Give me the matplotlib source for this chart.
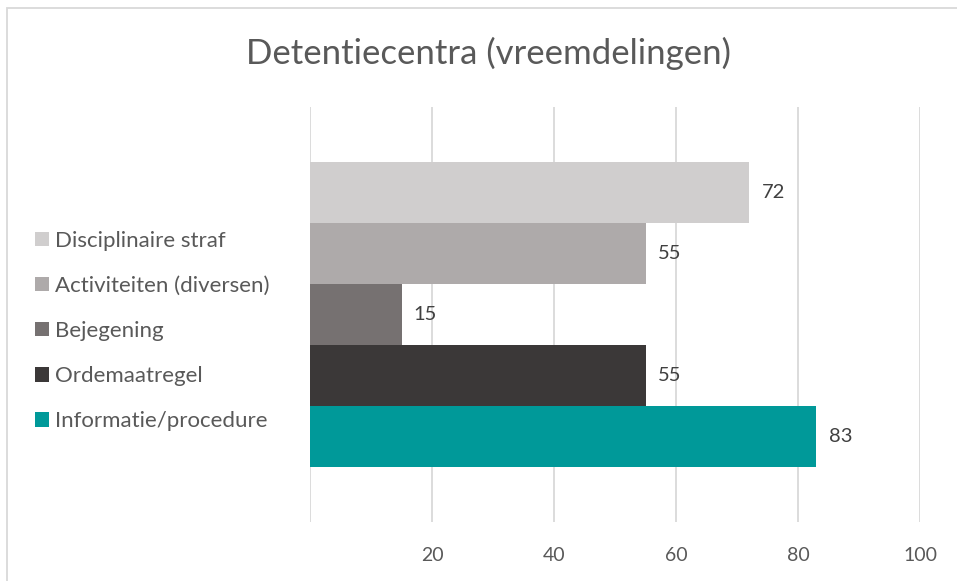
import matplotlib
matplotlib.use("Agg")
import matplotlib.pyplot as plt
from matplotlib.patches import Rectangle, Patch

categories = ["Disciplinaire straf", "Activiteiten (diversen)", "Bejegening",
              "Ordemaatregel", "Informatie/procedure"]
values = [72, 55, 15, 55, 83]
colors = ["#D0CECE", "#AEAAAA", "#767171", "#3B3838", "#009999"]
xticks = [0, 20, 40, 60, 80, 100]
xticklabels = ["", "20", "40", "60", "80", "100"]
title = "Detentiecentra (vreemdelingen)"

plt.rcParams['font.family'] = ['Lato', 'DejaVu Sans']

W, H = 957, 581
fig = plt.figure(figsize=(W / 100, H / 100), dpi=100)
ax = fig.add_axes([310 / W, 1 - 522 / H, (920 - 310) / W, (522 - 107) / H])

n = len(values)
ypos = list(range(n - 1, -1, -1))  # first category on top
for y, v, c in zip(ypos, values, colors):
    ax.barh(y, v, height=1.0, color=c, zorder=3)
    ax.text(v + 2.0, y, str(v), va="center", ha="left", fontsize=14.5, color="#404040")

gap = 0.9
ax.set_ylim(-0.5 - gap, n - 0.5 + gap)
ax.set_xlim(0, 100)
ax.set_xticks(xticks)
ax.set_xticklabels(xticklabels, fontsize=14, color="#595959")
ax.tick_params(axis="x", length=0, pad=18)
ax.set_yticks([])
ax.grid(axis="x", color="#D9D9D9", linewidth=1.3, zorder=0)
for s in ax.spines.values():
    s.set_visible(False)

handles = [Patch(facecolor=c, edgecolor="none") for c in colors]
leg = fig.legend(handles, categories, loc="center left",
                 bbox_to_anchor=(35 / W, 1 - 331 / H), frameon=False,
                 fontsize=16, labelcolor="#595959", handlelength=0.63,
                 handleheight=0.63, handletextpad=0.27, labelspacing=1.13,
                 borderpad=0, borderaxespad=0)

fig.text(488 / W, 1 - 53 / H, title, ha="center", va="center",
         fontsize=25, color="#595959")

border = Rectangle((7 / W, -0.02), 1.2, 1 - 8 / H + 0.02, transform=fig.transFigure,
                   fill=False, edgecolor="#D9D9D9", linewidth=1.3)
fig.patches.append(border)

fig.savefig("out.png", dpi=100, facecolor="white")
